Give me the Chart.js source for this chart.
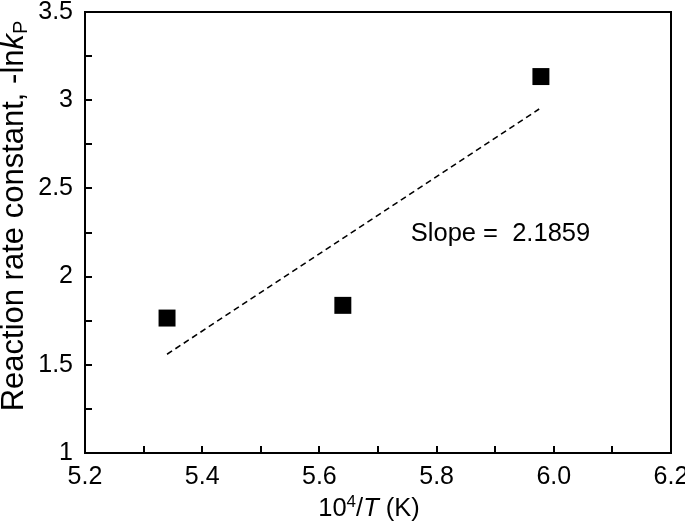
<!DOCTYPE html>
<html>
<head>
<meta charset="utf-8">
<script src="https://cdn.jsdelivr.net/npm/chart.js@4/dist/chart.umd.min.js"></script>
<style>
  html, body { margin: 0; padding: 0; background: #fff; }
  #wrap { width: 685px; height: 526px; }
</style>
</head>
<body>
<div id="wrap"><canvas id="rateChart" width="685" height="526"></canvas></div>
<script>
// measured points (10^4/T vs -ln kP)
var invTemp = [5.34, 5.64, 5.978];
var negLnK = [1.765, 1.837, 3.134];
// fitted line end points
var fitX = [5.34, 5.975];
var fitY = [1.56, 2.95];
var slopeText = 'Slope =  2.1859';
var slopePos = [5.756, 2.244];

var FONT = '"Liberation Sans", Arial, Helvetica, sans-serif';
var FS = 25;

const pointData = invTemp.map((x, i) => ({ x: x, y: negLnK[i] }));
const fitData = fitX.map((x, i) => ({ x: x, y: fitY[i] }));

function drawParts(ctx, parts, cx, cy) {
    let total = 0;
    parts.forEach(p => { ctx.font = p.f; p.w = ctx.measureText(p.t).width; total += p.w; });
    let x0 = cx - total / 2;
    parts.forEach(p => { ctx.font = p.f; ctx.fillText(p.t, x0, cy + p.dy); x0 += p.w; });
}

// inward ticks, axis titles and the slope note
const decorPlugin = {
    id: 'decor',
    afterDraw(chart) {
        const ctx = chart.ctx;
        const area = chart.chartArea;
        const xs = chart.scales.x, ys = chart.scales.y;
        ctx.save();
        ctx.strokeStyle = '#000';
        ctx.lineWidth = 2;
        ctx.beginPath();
        xs.ticks.forEach(t => {
            const px = Math.round(xs.getPixelForValue(t.value));
            if (px <= area.left + 1 || px >= area.right - 1) return;
            ctx.moveTo(px, area.bottom);
            ctx.lineTo(px, area.bottom - 7);
        });
        ys.ticks.forEach(t => {
            const py = Math.round(ys.getPixelForValue(t.value));
            if (py <= area.top + 1 || py >= area.bottom - 1) return;
            ctx.moveTo(area.left, py);
            ctx.lineTo(area.left + 7, py);
        });
        ctx.stroke();

        ctx.fillStyle = '#000';
        ctx.textBaseline = 'middle';
        ctx.textAlign = 'left';
        ctx.font = '25.5px ' + FONT;
        ctx.fillText(slopeText, xs.getPixelForValue(slopePos[0]), ys.getPixelForValue(slopePos[1]));

        // x title: 10^4/T (K)
        drawParts(ctx, [
            { t: '10', f: '25.5px ' + FONT, dy: 0 },
            { t: '4', f: '17px ' + FONT, dy: -7 },
            { t: '/', f: '25.5px ' + FONT, dy: 0 },
            { t: 'T', f: 'italic 25.5px ' + FONT, dy: 0 },
            { t: ' (K)', f: '25.5px ' + FONT, dy: 0 }
        ], 369, 509);

        // y title: Reaction rate constant, -ln kP
        ctx.translate(14, 216);
        ctx.rotate(-Math.PI / 2);
        drawParts(ctx, [
            { t: 'Reaction rate constant, -ln', f: '31px ' + FONT, dy: 0 },
            { t: 'k', f: 'italic 31px ' + FONT, dy: 0 },
            { t: 'P', f: '20px ' + FONT, dy: 7 }
        ], 0, 0);
        ctx.restore();
    }
};

const ctx = document.getElementById('rateChart').getContext('2d');
new Chart(ctx, {
    type: 'scatter',
    data: {
        datasets: [{
            label: 'data',
            data: pointData,
            pointStyle: 'rect',
            pointRadius: 12,
            pointHoverRadius: 12,
            backgroundColor: '#000',
            borderColor: '#000',
            borderWidth: 0
        },
        {
            label: 'fit',
            type: 'line',
            data: fitData,
            borderColor: '#000',
            borderWidth: 1.6,
            borderDash: [6, 4],
            pointRadius: 0,
            fill: false
        }]
    },
    options: {
        responsive: false,
        animation: false,
        devicePixelRatio: 1,
        layout: { padding: { top: 11, right: 14, left: 0, bottom: 0 } },
        plugins: {
            legend: { display: false },
            tooltip: { enabled: false }
        },
        scales: {
            x: {
                type: 'linear',
                min: 5.2,
                max: 6.2,
                afterFit: function (scale) {
                    scale.height = 73;
                    scale.paddingLeft = 0; scale.paddingRight = 0;
                },
                ticks: {
                    stepSize: 0.1,
                    autoSkip: false,
                    maxRotation: 0,
                    padding: 9,
                    color: '#000',
                    font: { family: FONT, size: FS },
                    callback: function (v) {
                        const k = Math.round(v * 10);
                        return k % 2 === 0 ? (k / 10).toFixed(1) : '';
                    }
                },
                grid: { display: true, drawOnChartArea: false, drawTicks: false },
                border: { display: true, color: '#000', width: 2 }
            },
            y: {
                type: 'linear',
                min: 1,
                max: 3.5,
                afterFit: function (scale) {
                    scale.width = 85;
                    scale.paddingTop = 0; scale.paddingBottom = 0;
                },
                ticks: {
                    stepSize: 0.25,
                    autoSkip: false,
                    padding: 12,
                    color: '#000',
                    font: { family: FONT, size: FS },
                    callback: function (v) {
                        const k = Math.round(v * 4);
                        return k % 2 === 0 ? String(k / 4) : '';
                    }
                },
                grid: { display: true, drawOnChartArea: false, drawTicks: false },
                border: { display: true, color: '#000', width: 2 }
            },
            x2: {
                type: 'linear', position: 'top', min: 5.2, max: 6.2,
                afterFit: function (scale) { scale.height = 0; },
                ticks: { display: false },
                grid: { display: false, drawTicks: false },
                border: { display: true, color: '#000', width: 2 }
            },
            y2: {
                type: 'linear', position: 'right', min: 1, max: 3.5,
                afterFit: function (scale) { scale.width = 0; },
                ticks: { display: false },
                grid: { display: false, drawTicks: false },
                border: { display: true, color: '#000', width: 2 }
            }
        }
    },
    plugins: [decorPlugin]
});
</script>
</body>
</html>
